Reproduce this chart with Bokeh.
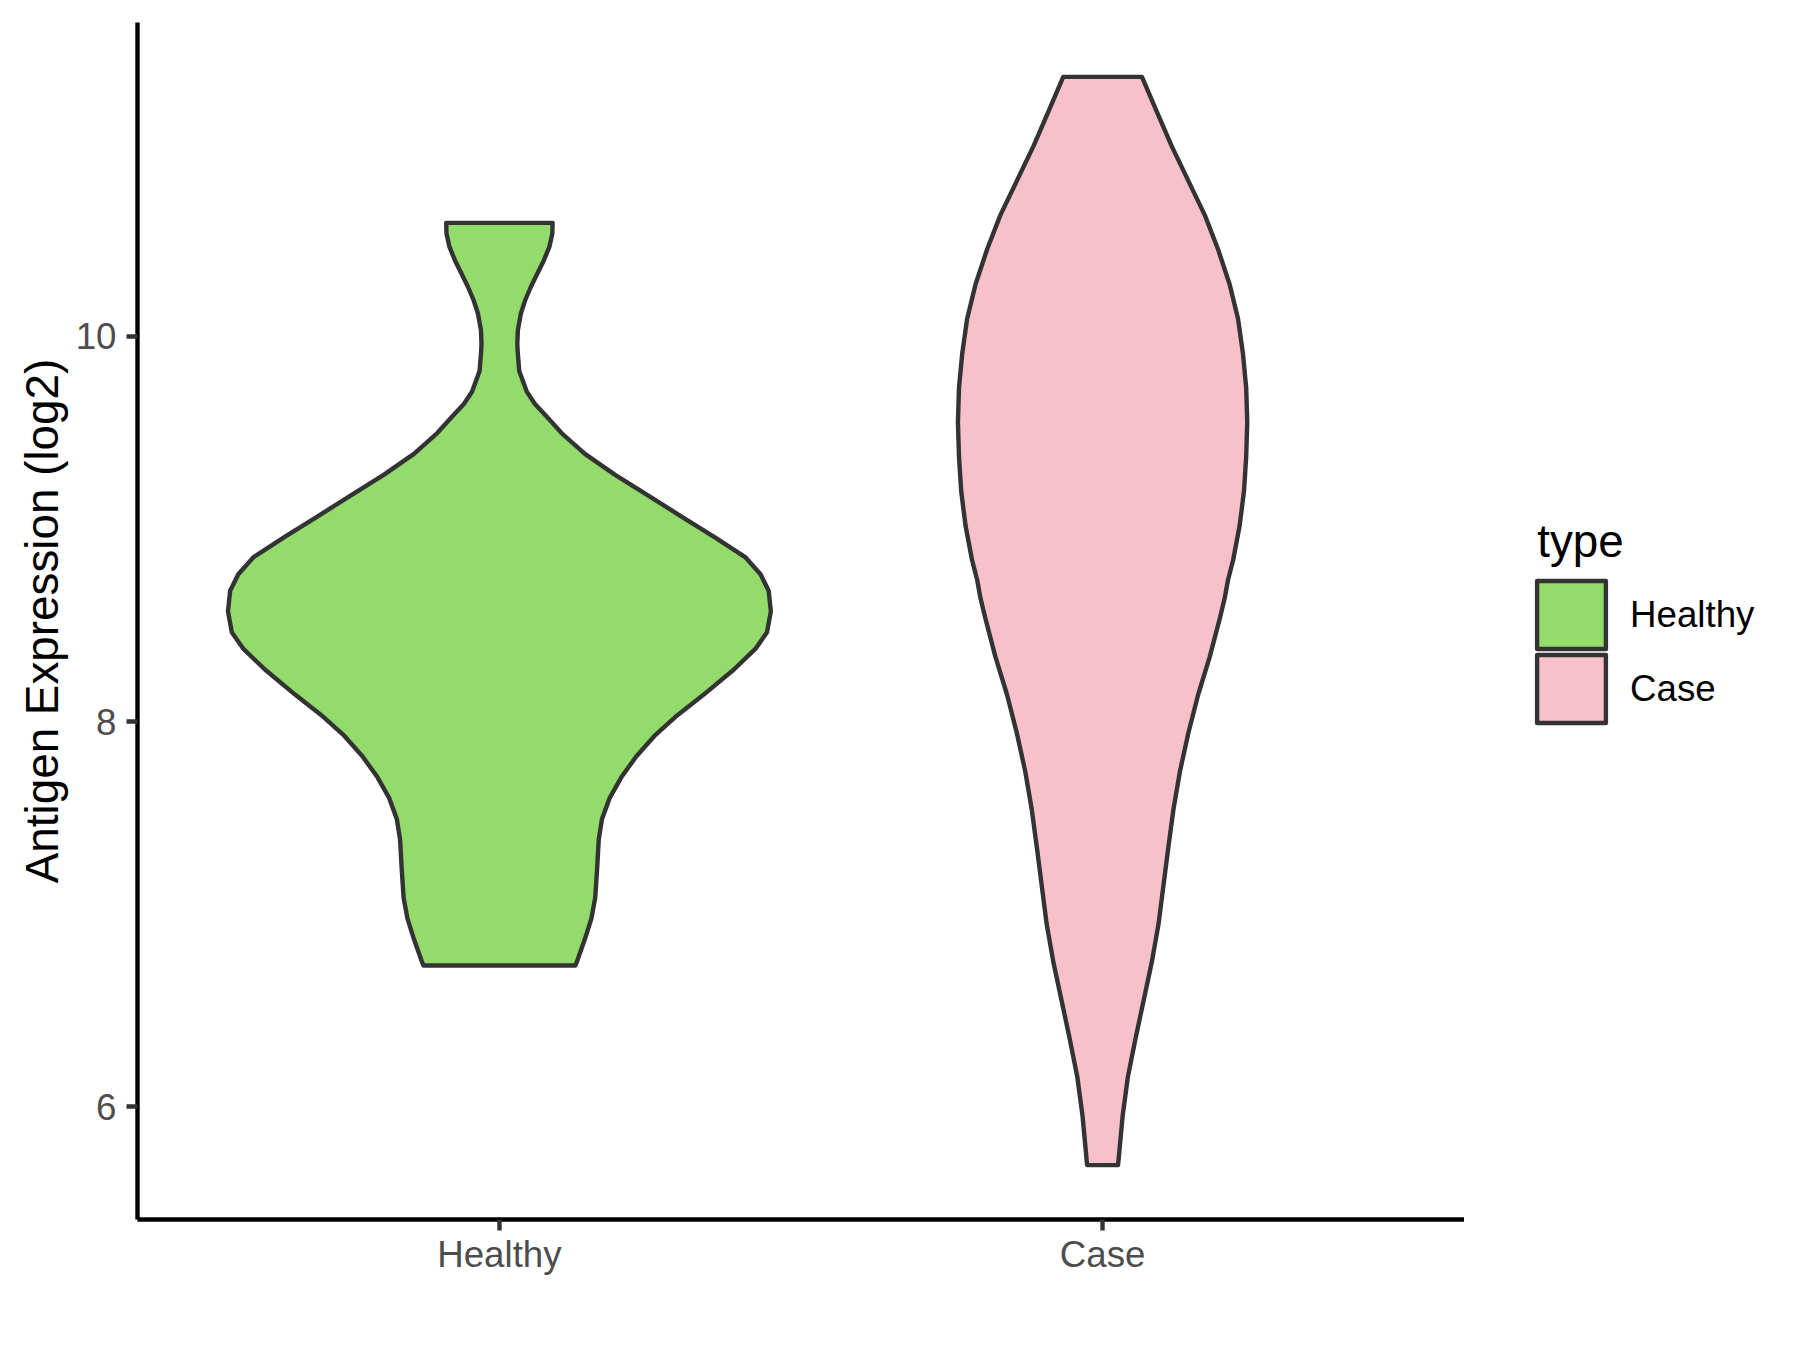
from bokeh.plotting import figure
from bokeh.models import (FactorRange, Range1d, FixedTicker, Legend, LegendItem, Label)
from bokeh.layouts import row
from bokeh.embed import file_html
from bokeh.resources import INLINE

# ---- data ----
groups = ["Healthy", "Case"]
fill_colors = ["#93DB6B", "#F7C0CB"]
y_ticks = [6, 8, 10]

# violin outlines: expression value and relative density (width) at that value
healthy_y = [6.733, 6.762, 6.870, 6.977, 7.085, 7.236, 7.387, 7.494, 7.602, 7.710,
             7.818, 7.925, 8.033, 8.141, 8.270, 8.377, 8.464, 8.572, 8.679, 8.765,
             8.852, 8.959, 9.067, 9.175, 9.282, 9.390, 9.498, 9.584, 9.649, 9.713,
             9.821, 9.929, 9.964, 10.033, 10.119, 10.188, 10.258, 10.327, 10.396, 10.465,
             10.535, 10.590]
healthy_density = [0.280, 0.288, 0.315, 0.339, 0.353, 0.360, 0.366, 0.378, 0.406, 0.449,
                   0.504, 0.571, 0.656, 0.754, 0.864, 0.943, 0.986, 1.000, 0.992, 0.962,
                   0.907, 0.791, 0.668, 0.547, 0.425, 0.315, 0.229, 0.174, 0.131, 0.101,
                   0.073, 0.067, 0.066, 0.068, 0.079, 0.095, 0.116, 0.140, 0.164, 0.184,
                   0.195, 0.196]

case_y = [5.696, 5.952, 6.153, 6.351, 6.550, 6.748, 6.947, 7.146, 7.344, 7.543,
          7.741, 7.940, 8.139, 8.337, 8.536, 8.641, 8.735, 8.839, 9.018, 9.197,
          9.375, 9.555, 9.734, 9.913, 10.092, 10.271, 10.450, 10.629, 10.808, 10.987,
          11.166, 11.348]
case_density = [0.057, 0.074, 0.093, 0.121, 0.151, 0.181, 0.206, 0.224, 0.242, 0.261,
                0.285, 0.316, 0.352, 0.395, 0.432, 0.450, 0.462, 0.481, 0.505, 0.521,
                0.529, 0.533, 0.529, 0.517, 0.499, 0.468, 0.426, 0.377, 0.316, 0.255,
                0.200, 0.145]

violins = {"Healthy": (healthy_y, healthy_density), "Case": (case_y, case_density)}

# ---- scales ----
all_y = healthy_y + case_y
lo, hi = min(all_y), max(all_y)
pad = 0.05 * (hi - lo)

FONT = "Liberation Sans"
VIOLIN_HALF = 0.45  # half of ggplot's default violin width 0.9
LW = 4.4
H = 1334
MAIN_W = 1464
LEG_W = 320
B_TOP, B_BOTTOM = 22, 115

p = figure(width=MAIN_W, height=H,
           x_range=FactorRange(factors=groups, range_padding=0.1),
           y_range=Range1d(lo - pad, hi + pad),
           output_backend="svg", toolbar_location=None,
           min_border_left=137, min_border_right=0,
           min_border_top=B_TOP, min_border_bottom=B_BOTTOM)

p.outline_line_color = None
p.xgrid.visible = False
p.ygrid.visible = False
p.background_fill_color = "white"
p.border_fill_color = "white"

for g, col in zip(groups, fill_colors):
    ys, dens = violins[g]
    left = [(g, -VIOLIN_HALF * d) for d in dens]
    right = [(g, VIOLIN_HALF * d) for d in dens]
    xs = left + right[::-1]
    yy = list(ys) + list(ys)[::-1]
    p.patch(x=xs, y=yy, fill_color=col, line_color="#333333",
            line_width=LW, line_join="round")

# ---- axes ----
for ax in (p.xaxis[0], p.yaxis[0]):
    ax.axis_line_color = "black"
    ax.axis_line_width = LW
    ax.major_tick_line_color = "#333333"
    ax.major_tick_line_width = LW
    ax.major_tick_out = 11
    ax.major_tick_in = 0
    ax.minor_tick_line_color = None
    ax.major_label_text_font = FONT
    ax.major_label_text_font_size = "36.7px"
    ax.major_label_text_color = "#4D4D4D"

p.xaxis.major_label_standoff = 3
p.yaxis.ticker = FixedTicker(ticks=y_ticks, minor_ticks=[])
p.yaxis.major_label_standoff = 10
p.yaxis.axis_label = "Antigen Expression (log2)"
p.yaxis.axis_label_text_font = FONT
p.yaxis.axis_label_text_font_size = "45.8px"
p.yaxis.axis_label_text_font_style = "normal"
p.yaxis.axis_label_text_color = "black"
p.yaxis.axis_label_standoff = 5

# ---- legend column beside the panel (pixel-space figure, frame aligned with p) ----
q = figure(width=LEG_W, height=H, x_range=Range1d(0, LEG_W),
           y_range=Range1d(B_BOTTOM, H - B_TOP),
           x_axis_type=None, y_axis_type=None,
           output_backend="svg", toolbar_location=None,
           min_border_left=0, min_border_right=0,
           min_border_top=B_TOP, min_border_bottom=B_BOTTOM)
q.outline_line_color = None
q.xgrid.visible = False
q.ygrid.visible = False
q.background_fill_color = "white"
q.border_fill_color = "white"

legend_bottoms = [562, 488]   # px above the frame bottom
for g, col, yb in zip(groups, fill_colors, legend_bottoms):
    ys, dens = violins[g]
    # key renderer: same outline data, lies below this column's visible range
    r = q.patch(x=list(dens), y=list(ys), fill_color=col, line_color="#333333",
                line_width=LW, line_join="round")
    lg = Legend(items=[LegendItem(label=g, renderers=[r])], location=(64, yb),
                glyph_width=86, glyph_height=85, label_height=85,
                spacing=0, label_standoff=16, padding=0, margin=0,
                border_line_color=None, background_fill_alpha=0,
                label_text_font=FONT, label_text_font_size="36.7px",
                label_text_color="black")
    q.add_layout(lg)

q.add_layout(Label(x=72.7, y=H - 541, text="type", text_font=FONT,
                   text_font_size="45.8px", text_color="black",
                   text_align="left", text_baseline="alphabetic"))

layout = row(p, q)
open("out.html", "w").write(file_html(layout, INLINE))
